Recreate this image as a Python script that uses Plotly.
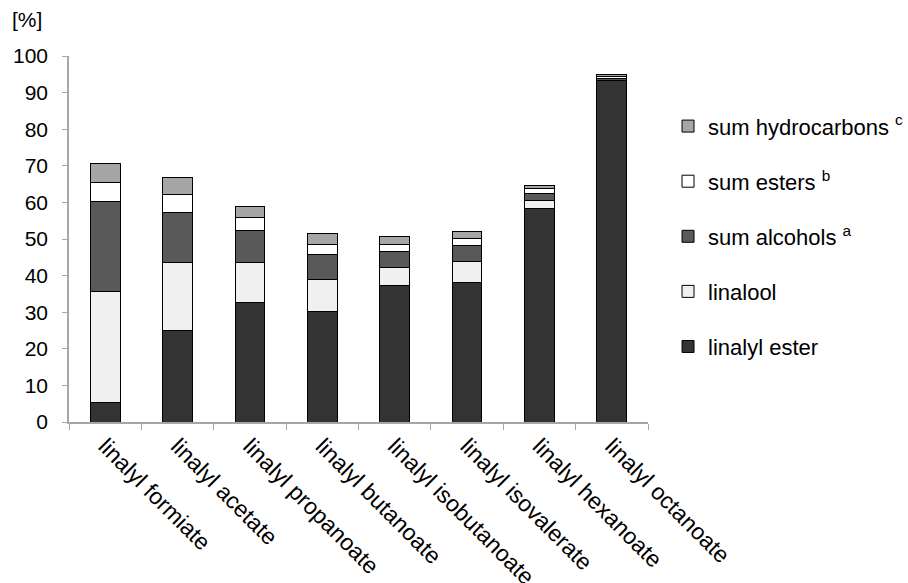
import plotly.graph_objects as go

# Composition of the products for each linalyl ester [%]
categories = [
    "linalyl formiate", "linalyl acetate", "linalyl propanoate",
    "linalyl butanoate", "linalyl isobutanoate", "linalyl isovalerate",
    "linalyl hexanoate", "linalyl octanoate",
]
linalyl_ester = [5.2, 25.0, 32.7, 30.2, 37.4, 38.1, 58.3, 93.2]
linalool = [30.5, 18.7, 10.9, 8.8, 4.9, 5.8, 2.2, 0.2]
sum_alcohols = [24.5, 13.5, 8.7, 6.7, 4.2, 4.2, 2.0, 0.4]
sum_esters = [5.2, 5.0, 3.6, 2.7, 1.9, 2.0, 1.3, 0.7]
sum_hydrocarbons = [5.3, 4.7, 3.0, 3.0, 2.2, 1.9, 0.9, 0.4]

y_ticks = [0, 10, 20, 30, 40, 50, 60, 70, 80, 90, 100]

series = [
    ("linalyl ester", linalyl_ester, "#333333"),
    ("linalool", linalool, "#f0f0f0"),
    ("sum alcohols <sup>a</sup>", sum_alcohols, "#595959"),
    ("sum esters <sup>b</sup>", sum_esters, "#ffffff"),
    ("sum hydrocarbons <sup>c</sup>", sum_hydrocarbons, "#a6a6a6"),
]

FONT = "Liberation Sans, Arial, sans-serif"
AXIS_GREY = "#a6a6a6"

fig = go.Figure()
n = len(series)
for i, (name, vals, color) in enumerate(series):
    fig.add_trace(go.Bar(
        x=categories, y=vals, name=name,
        legendgroup=f"g{i}", legendrank=n - i,
        marker=dict(color=color, line=dict(color="#000000", width=1)),
    ))

fig.update_layout(
    width=908, height=583,
    barmode="stack", bargap=0.59,
    plot_bgcolor="white", paper_bgcolor="white",
    margin=dict(l=69, r=260, t=56, b=161, pad=0, autoexpand=False),
    font=dict(family=FONT, size=21, color="#000000"),
    legend=dict(
        xref="container", yref="container",
        x=0.7357, y=0.8194, xanchor="left", yanchor="top",
        traceorder="grouped", tracegroupgap=23.5,
        font=dict(family=FONT, size=22, color="#000000"),
        bgcolor="rgba(0,0,0,0)",
    ),
    annotations=[dict(
        text="[%]", xref="paper", yref="paper",
        x=-0.102, y=1.1, xanchor="left", yanchor="middle",
        showarrow=False, font=dict(family=FONT, size=21, color="#000000"),
    )],
)

fig.update_xaxes(
    type="category", tickangle=45, tickson="boundaries",
    ticks="outside", ticklen=6, tickcolor=AXIS_GREY,
    showline=True, linecolor=AXIS_GREY, linewidth=1.5,
    showgrid=False, zeroline=False, automargin=False,
    tickfont=dict(family=FONT, size=23, color="#000000"),
)
fig.update_yaxes(
    range=[0, 100], tickvals=y_ticks,
    ticks="outside", ticklen=5, tickcolor=AXIS_GREY,
    showline=True, linecolor=AXIS_GREY, linewidth=1.5,
    showgrid=False, zeroline=False, ticklabelstandoff=10, automargin=False,
    tickfont=dict(family=FONT, size=21, color="#000000"),
)

fig.write_html("out.html")
